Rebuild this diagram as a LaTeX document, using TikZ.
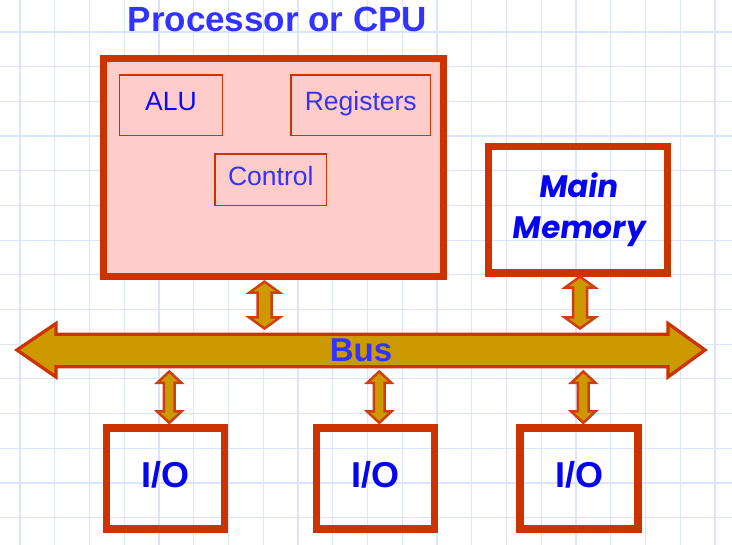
\documentclass[tikz,border=0pt]{standalone}
\usepackage{fontspec}
\setmainfont{Liberation Sans}
\newfontfamily\mmfont{Poppins}[FakeSlant=0.14]
\usetikzlibrary{calc}
\definecolor{brd}{HTML}{CC3300}
\definecolor{cpufill}{HTML}{FFCCCC}
\definecolor{busfill}{HTML}{CC9900}
\definecolor{titleblue}{HTML}{3333FF}
\definecolor{alublue}{HTML}{0A0AFA}
\definecolor{regblue}{HTML}{3535EE}
\definecolor{memblue}{HTML}{0505EE}
\definecolor{gridblue}{RGB}{220,228,250}
\definecolor{smallbrd}{RGB}{208,62,16}
\newcommand\dblarrow[5]{%
  \path[fill=busfill,draw=smallbrd,line width=2.5pt,line join=miter]
    let \p1=(#1), \p2=(#2) in
    (\x1,\y1) -- (\x1+#3,\y1-#5) -- (\x1+#4,\y1-#5) -- (\x1+#4,\y2+#5)
    -- (\x1+#3,\y2+#5) -- (\x1,\y2) -- (\x1-#3,\y2+#5) -- (\x1-#4,\y2+#5)
    -- (\x1-#4,\y1-#5) -- (\x1-#3,\y1-#5) -- cycle;}
\begin{document}
\begin{tikzpicture}[x=1pt,y=-1pt,
  gridline/.style={draw=gridblue,line width=1.2pt},
  thickbox/.style={draw=brd,line width=7.3pt,inner sep=0pt},
  thinbox/.style={draw=brd,line width=1.3pt,inner sep=0pt,
    font=\fontsize{26.5}{30}\selectfont,text height=11.4pt,text depth=0pt},
  iobox/.style={thickbox,minimum width=118pt,minimum height=101pt,
    font=\bfseries\fontsize{36}{40}\selectfont,text=memblue,
    text height=17.6pt,text depth=0pt}]
\useasboundingbox (0,0) rectangle (732,545);
\fill[white] (0,0) rectangle (732,545);
% grid
\foreach \i in {0,...,20}
  \draw[gridline] ({20+34.75*\i},0) -- ({20+34.75*\i},545);
\foreach \j in {0,...,14}
  \draw[gridline] (0,{32+34.69*\j}) -- (732,{32+34.69*\j});
% title
\node[anchor=base,font=\bfseries\fontsize{35}{40}\selectfont,text=titleblue,inner sep=0pt]
  (title) at (277.5,32) {Processor or CPU};
% CPU
\node[thickbox,fill=cpufill,minimum width=340pt,minimum height=218pt]
  (cpu) at (273.5,167.5) {};
\node[thinbox,minimum width=103.4pt,minimum height=60.7pt,text=alublue]
  (alu) at (171,105.3) {ALU};
\node[thinbox,minimum width=139.7pt,minimum height=60.7pt,text=regblue]
  (reg) at (360.8,105.3) {Registers};
\node[thinbox,minimum width=111.7pt,minimum height=51.7pt,text=regblue,text height=11.8pt]
  (ctl) at (270.8,179.8) {Control};
% memory
\node[thickbox,minimum width=178.8pt,minimum height=126.7pt,align=center,
  font=\mmfont\bfseries\fontsize{31}{41.7}\selectfont,text=memblue]
  (mem) at (578.1,209.7) {Main\\Memory};
% I/O
\node[iobox] (io1) at (165.8,478.5) {I/O};
\node[iobox] (io2) at (375.8,478.5) {I/O};
\node[iobox] (io3) at (579,478.5) {I/O};
% bus
\draw[fill=busfill,draw=brd,line width=3.3pt,line join=miter]
  (17,350) -- (56,323.5) -- (56,334.3) -- (668,334.3) -- (668,323.5)
  -- (705,350) -- (668,377) -- (668,366.7) -- (56,366.7) -- (56,377) -- cycle;
\node[anchor=base,font=\bfseries\fontsize{33}{36}\selectfont,text=titleblue,inner sep=0pt]
  (bus) at (361,361.7) {Bus};
\coordinate (b1) at (264.5,328.5);
\coordinate (b2) at (580,328.5);
\coordinate (b3) at (169.3,371.5);
\coordinate (b4) at (379.3,371.5);
\coordinate (b5) at (583.3,371.5);
% small arrows
\dblarrow{$(cpu.south)+(-9,1.5)$}{b1}{15.2pt}{7pt}{11pt}
\dblarrow{$(mem.south)+(1.9,0)$}{b2}{15.2pt}{7pt}{11pt}
\dblarrow{b3}{$(io1.north)+(3.5,-1.5)$}{12.3pt}{5.4pt}{11.5pt}
\dblarrow{b4}{$(io2.north)+(3.5,-1.5)$}{12.3pt}{5.4pt}{11.5pt}
\dblarrow{b5}{$(io3.north)+(4.3,-1.5)$}{12.3pt}{5.4pt}{11.5pt}
\end{tikzpicture}
\end{document}
